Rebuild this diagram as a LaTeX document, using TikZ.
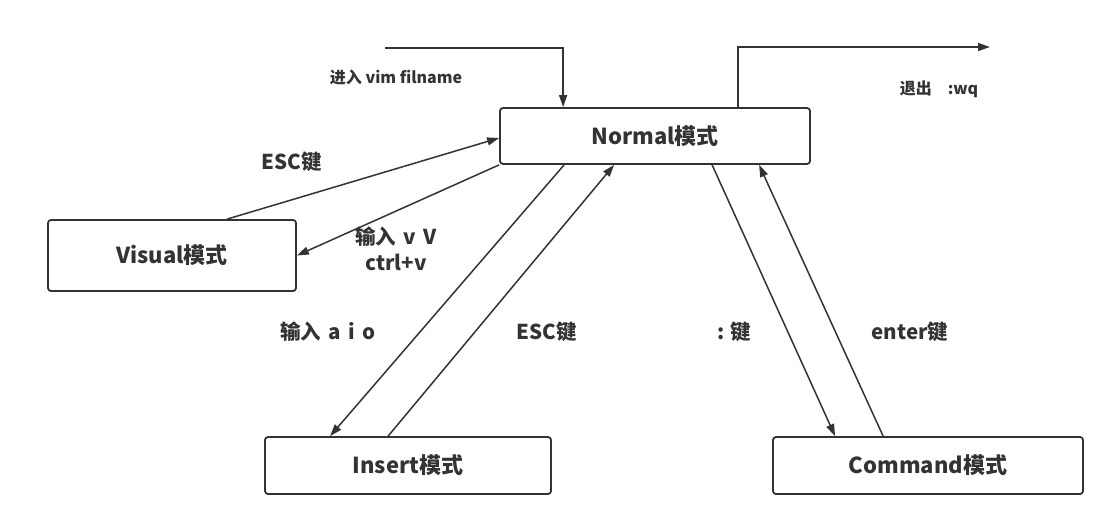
\documentclass[tikz,border=0pt]{standalone}
\usepackage{fontspec}
\setmainfont{Noto Sans CJK SC}
\usetikzlibrary{arrows.meta}
\definecolor{ink}{HTML}{333333}
\newcommand{\gap}{\hspace{0.36em}}
\begin{document}
\begin{tikzpicture}[x=1pt,y=-1pt,
  box/.style={draw=ink,line width=1.8pt,rounded corners=3pt,inner sep=0pt,font=\fontsize{22}{26}\selectfont\bfseries,text=ink},
  conn/.style={draw=ink,line width=1.5pt,-{Triangle[length=12pt,width=8pt]}},
  lbl/.style={text=ink,font=\fontsize{20.5}{26}\selectfont\bfseries,inner sep=0pt},
  slbl/.style={text=ink,font=\fontsize{16}{19}\selectfont\bfseries,inner sep=0pt}]
\useasboundingbox (0,0) rectangle (1115,525);
\node[box,minimum width=310pt,minimum height=56pt] (normal) at (655,136) {Normal模式};
\node[box,minimum width=248pt,minimum height=71pt] (visual) at (172,255.5) {Visual模式};
\node[box,minimum width=286pt,minimum height=57pt] (insert) at (408,465.5) {Insert模式};
\node[box,minimum width=310pt,minimum height=57pt] (command) at (928,465.5) {Command模式};
\coordinate (enter) at (385,48);
\coordinate (quit) at (990,47);
\draw[conn] (enter) -| ([xshift=64pt]normal.north west);
\draw[conn] ([xshift=239pt]normal.north west) |- (quit);
\draw[conn] ([xshift=180pt]visual.north west) -- ([yshift=-2pt]normal.west);
\draw[conn] (normal.south west) -- (visual.east);
\draw[conn] ([xshift=65pt]normal.south west) -- ([xshift=66pt]insert.north west);
\draw[conn] ([xshift=124pt]insert.north west) -- ([xshift=115pt]normal.south west);
\draw[conn] ([xshift=213pt]normal.south west) -- ([xshift=63pt]command.north west);
\draw[conn] ([xshift=111pt]command.north west) -- ([xshift=260pt]normal.south west);
\node[slbl] (l1) at (396,77) {进入 vim filname};
\node[slbl] (l2) at (939,89) {退出\quad:wq};
\node[lbl] (l3) at (292,162) {ESC键};
\node[lbl,align=center] (l4) at (396,249) {输入\gap v\gap V\\ctrl+v};
\node[lbl] (l5) at (328,332) {输入\gap a\gap i\gap o};
\node[lbl] (l6) at (547,332) {ESC键};
\node[lbl] (l7) at (734,332) {: 键};
\node[lbl] (l8) at (910,332) {enter键};
\end{tikzpicture}
\end{document}
